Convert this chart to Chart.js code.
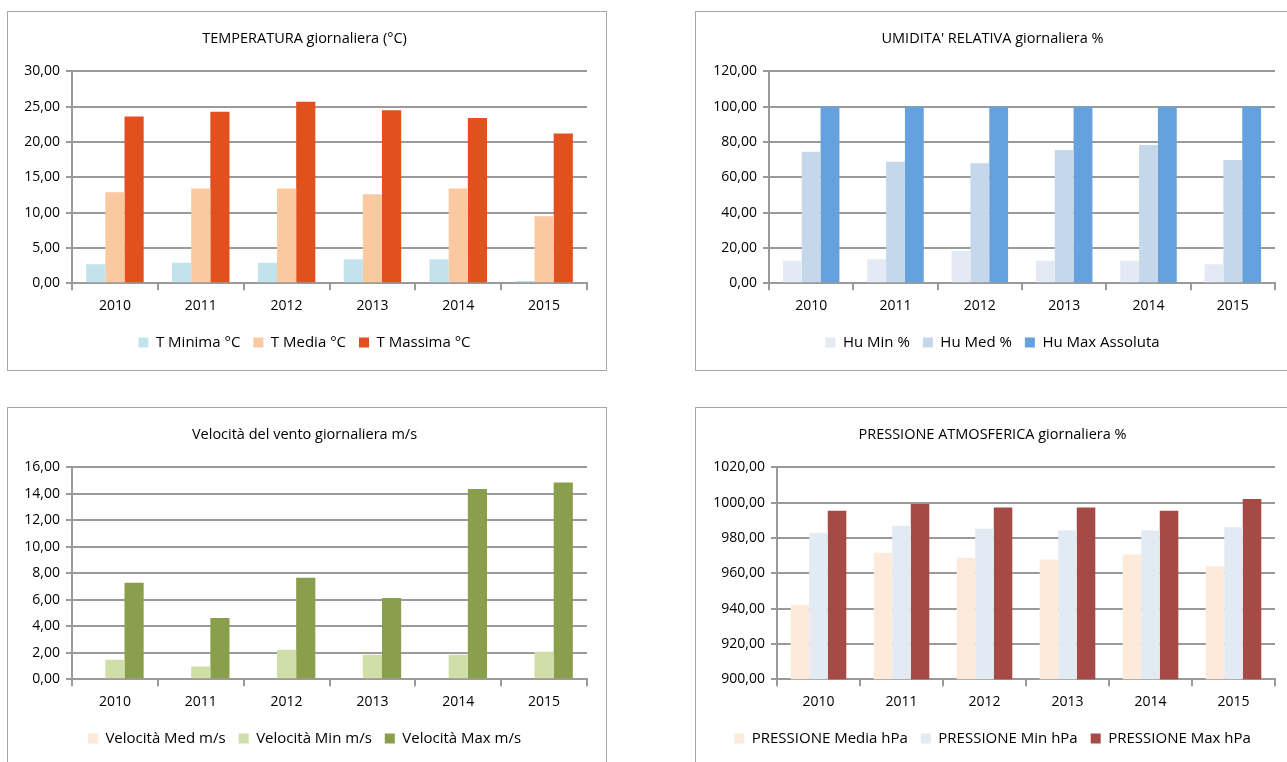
<!DOCTYPE html>
<html>
<head>
<meta charset="utf-8">
<script src="https://cdn.jsdelivr.net/npm/chart.js@4.4.1/dist/chart.umd.min.js"></script>
<style>
  html, body { margin: 0; padding: 0; background: #fff; overflow: hidden; }
  .panel { position: absolute; width: 600px; height: 360px; box-sizing: border-box; border: 1px solid #a6a6a6; background: #fff; }
  .panel canvas { display: block; }
</style>
</head>
<body>
<div class="panel" style="left:7px;top:11px"><canvas id="temp" width="598" height="358"></canvas></div>
<div class="panel" style="left:695px;top:11px"><canvas id="hum" width="598" height="358"></canvas></div>
<div class="panel" style="left:7px;top:407px"><canvas id="wind" width="598" height="358"></canvas></div>
<div class="panel" style="left:695px;top:407px"><canvas id="press" width="598" height="358"></canvas></div>

<script>
// years on the x axis
const years = ["2010", "2011", "2012", "2013", "2014", "2015"];

// temperature (°C)
const tMin = [2.7, 2.9, 2.9, 3.4, 3.4, 0.3];
const tMed = [12.9, 13.4, 13.4, 12.6, 13.4, 9.5];
const tMax = [23.6, 24.3, 25.7, 24.5, 23.4, 21.2];

// relative humidity (%)
const huMin = [12.7, 13.6, 18.3, 12.7, 12.7, 10.8];
const huMed = [74.5, 68.8, 67.9, 75.5, 78.3, 69.8];
const huMax = [100, 100, 100, 100, 100, 100];

// wind speed (m/s)
const vMed = [0, 0, 0, 0, 0, 0];
const vMin = [1.47, 0.96, 2.22, 1.85, 1.85, 2.07];
const vMax = [7.28, 4.63, 7.66, 6.14, 14.36, 14.86];

// atmospheric pressure (hPa)
const pMed = [942.1, 971.6, 968.8, 967.8, 970.7, 964.0];
const pMin = [983.0, 987.0, 985.3, 984.2, 984.2, 986.1];
const pMax = [995.4, 999.2, 997.3, 997.3, 995.4, 1002.1];

Chart.defaults.font.family = "'Open Sans', sans-serif";
Chart.defaults.font.size = 14;
Chart.defaults.color = "#000";

const gridGrey = "#9a9a9a";
const leftPad = 14;
const rightPad = 19;

function comma(v) {
  return Number(v).toFixed(2).replace(".", ",");
}

function makeChart(id, title, series, yMin, yMax, step, axisX) {
  return new Chart(document.getElementById(id), {
    type: "bar",
    data: {
      labels: years,
      datasets: series.map(s => ({
        label: s.label,
        data: s.data,
        backgroundColor: s.color,
        borderWidth: 0,
        categoryPercentage: 0.67,
        barPercentage: 1.0,
      })),
    },
    options: {
      responsive: false,
      animation: false,
      // side padding keeps title and legend roughly centred on the panel
      layout: { padding: { left: leftPad, right: rightPad, top: 0, bottom: 10 } },
      plugins: {
        tooltip: { enabled: false },
        title: {
          display: true,
          text: title,
          font: { size: 14.5, weight: "normal" },
          padding: { top: 18, bottom: 24 },
        },
        legend: {
          position: "bottom",
          labels: { boxWidth: 10, boxHeight: 10, padding: 13, font: { size: 15 } },
        },
      },
      scales: {
        x: {
          grid: { drawOnChartArea: false, drawTicks: true, tickLength: 7, color: gridGrey, lineWidth: 2, offset: true },
          border: { display: true, color: gridGrey, width: 2 },
          ticks: { padding: 7.5, font: { size: 14 } },
        },
        y: {
          min: yMin,
          max: yMax,
          ticks: { stepSize: step, padding: 6, callback: v => comma(v), font: { size: 14 } },
          grid: { color: gridGrey, lineWidth: 2, tickLength: 6 },
          border: { display: true, color: gridGrey, width: 2 },
          afterFit: scale => { scale.width = axisX - leftPad; },
        },
      },
    },
  });
}

makeChart("temp", "TEMPERATURA giornaliera (°C)", [
  { label: "T Minima °C", data: tMin, color: "#c3e3ec" },
  { label: "T Media °C", data: tMed, color: "#fac9a0" },
  { label: "T Massima °C", data: tMax, color: "#e2501d" },
], 0, 30, 5, 64);

makeChart("hum", "UMIDITA' RELATIVA giornaliera %", [
  { label: "Hu Min %", data: huMin, color: "#e3eaf3" },
  { label: "Hu Med %", data: huMed, color: "#c5d7eb" },
  { label: "Hu Max Assoluta", data: huMax, color: "#65a1dc" },
], 0, 120, 20, 73);

makeChart("wind", "Velocità del vento giornaliera m/s", [
  { label: "Velocità Med m/s", data: vMed, color: "#fde9d9" },
  { label: "Velocità Min m/s", data: vMin, color: "#d0dea8" },
  { label: "Velocità Max m/s", data: vMax, color: "#899f4b" },
], 0, 16, 2, 64);

makeChart("press", "PRESSIONE ATMOSFERICA giornaliera %", [
  { label: "PRESSIONE Media hPa", data: pMed, color: "#fdeadb" },
  { label: "PRESSIONE Min hPa", data: pMin, color: "#e2eaf3" },
  { label: "PRESSIONE Max hPa", data: pMax, color: "#a64a45" },
], 900, 1020, 20, 81);
</script>
</body>
</html>
